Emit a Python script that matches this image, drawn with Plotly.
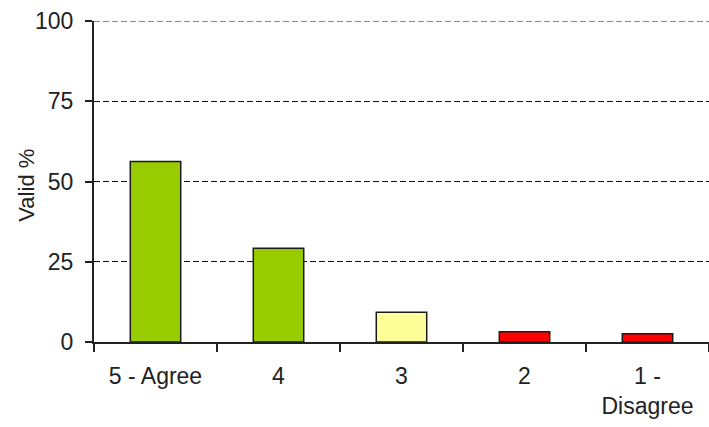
import plotly.graph_objects as go

# Survey response distribution (valid %)
categories = ["5 - Agree", "4", "3", "2", "1 -<br>Disagree"]
valid_pct = [56.2, 29.2, 9.3, 3.2, 2.6]
bar_colors = ["#99CC00", "#99CC00", "#FFFF99", "#FF0000", "#FF0000"]
y_ticks = [0, 25, 50, 75, 100]

font_family = "Liberation Sans, Arial, sans-serif"
grid_style = dict(color="#111", width=1.2, dash="6px,3px")

fig = go.Figure(
    go.Bar(
        x=categories,
        y=valid_pct,
        width=0.41,
        marker=dict(color=bar_colors, line=dict(color="#1a1a1a", width=1.5)),
    )
)

fig.update_layout(
    width=709,
    height=427,
    margin=dict(l=94, r=0, t=21, b=85),
    paper_bgcolor="white",
    plot_bgcolor="white",
    showlegend=False,
    font=dict(family=font_family, color="#222", size=23),
)

fig.update_xaxes(
    type="category",
    range=[-0.5, 4.5],
    showline=True,
    linecolor="#222",
    linewidth=2,
    ticks="outside",
    tickson="boundaries",
    ticklen=8,
    tickwidth=2,
    tickcolor="#222",
    showgrid=False,
    tickfont=dict(size=23),
    ticklabelstandoff=12,
)

fig.update_yaxes(
    range=[0, 100],
    tickvals=y_ticks,
    showline=True,
    linecolor="#222",
    linewidth=2,
    ticks="outside",
    ticklen=7,
    tickwidth=2,
    tickcolor="#222",
    showgrid=True,
    gridcolor=grid_style["color"],
    gridwidth=grid_style["width"],
    griddash=grid_style["dash"],
    zeroline=False,
    tickfont=dict(size=23),
    ticklabelstandoff=7,
)

# Y-axis title placed beside the tick labels
fig.add_annotation(
    text="Valid %", textangle=-90,
    xref="paper", yref="paper", x=-0.109, y=0.49,
    xanchor="center", yanchor="middle", showarrow=False,
    font=dict(size=22, family=font_family, color="#222"),
)

# Top gridline sits on the plot edge, so draw it explicitly
fig.add_shape(
    type="line", xref="paper", yref="y",
    x0=0, x1=1, y0=y_ticks[-1], y1=y_ticks[-1],
    line=grid_style, layer="above",
)

fig.write_html("out.html")
